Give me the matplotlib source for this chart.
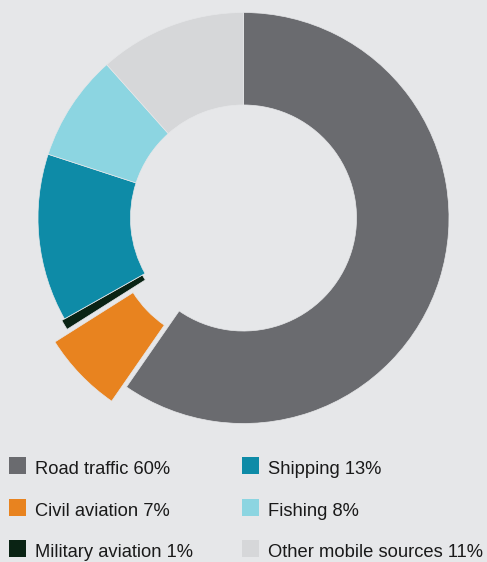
import matplotlib.pyplot as plt
from matplotlib.patches import Rectangle

labels = ["Road traffic", "Civil aviation", "Military aviation", "Shipping", "Fishing", "Other mobile sources"]
label_pct = [60, 7, 1, 13, 8, 11]
# slice shares
shares = [59.7, 6.4, 0.8, 13.2, 8.4, 11.6]
colors = ["#6a6b6f", "#e8831f", "#0a2314", "#0e8ba7", "#8cd5e1", "#d6d7d9"]
explode = [0, 0.1, 0.015, 0, 0, 0]
bg = "#e6e7e9"

fig = plt.figure(figsize=(4.87, 5.62), dpi=100, facecolor=bg)
ax = fig.add_axes([38 / 487, (562 - 423.5) / 562, 411 / 487, 411 / 562])
ax.set_facecolor(bg)
ax.pie(shares, colors=colors, explode=explode, startangle=90, counterclock=False,
       radius=1, wedgeprops=dict(width=0.45, edgecolor=bg, linewidth=0.5, clip_on=False))
ax.set_xlim(-1.0, 1.0)
ax.set_ylim(-1.0, 1.0)
ax.set_aspect("equal")
ax.axis("off")

# legend, two columns (baseline positions in pixels from top)
col_x = [9, 242]
row_base = [474, 516, 557]
for i in range(len(labels)):
    cx = col_x[i // 3]
    by = row_base[i % 3]
    fig.patches.append(Rectangle((cx / 487, 1 - by / 562), 17 / 487, 17 / 562,
                                 transform=fig.transFigure, facecolor=colors[i], edgecolor="none"))
    fig.text((cx + 26) / 487, 1 - by / 562, f"{labels[i]} {label_pct[i]}%",
             fontsize=13.2, family="Liberation Sans", color="#1a1a1a", va="baseline", ha="left")

fig.savefig("out.png", dpi=100, facecolor=bg)
